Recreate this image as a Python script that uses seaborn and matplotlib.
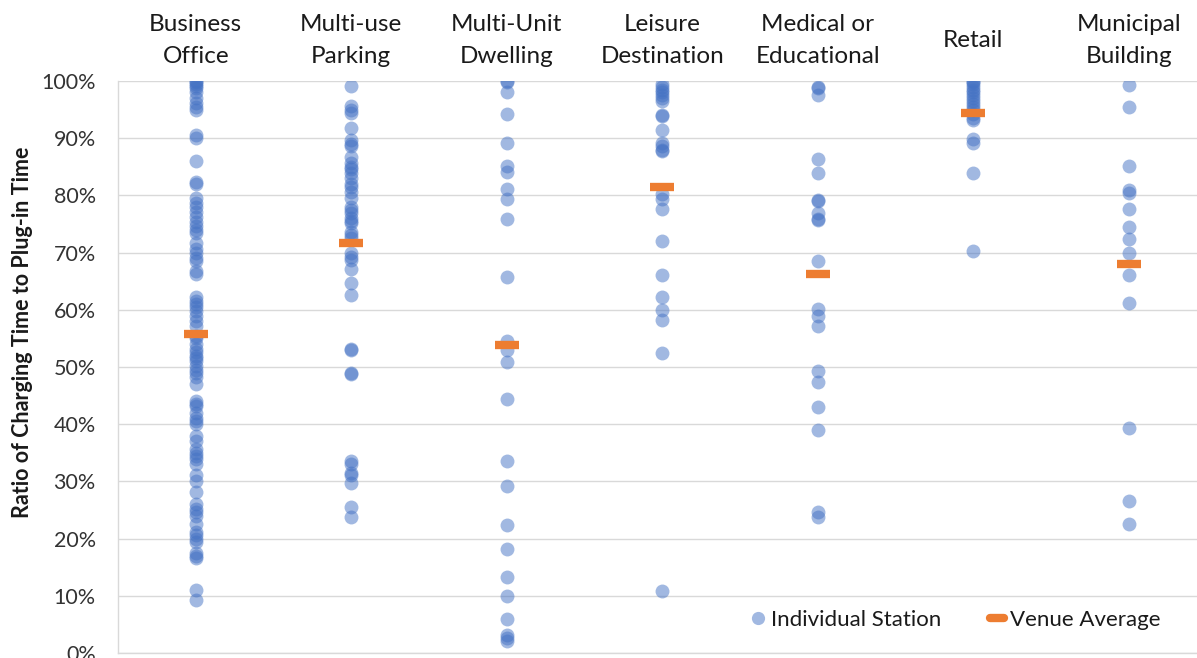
import matplotlib
matplotlib.use("Agg")
import matplotlib.pyplot as plt
from matplotlib.lines import Line2D
from matplotlib.markers import MarkerStyle
from matplotlib.ticker import PercentFormatter
import pandas as pd
import seaborn as sns

# venue categories (two-line labels as in the reference)
venues = ["Business\nOffice", "Multi-use\nParking", "Multi-Unit\nDwelling",
          "Leisure\nDestination", "Medical or\nEducational", "Retail",
          "Municipal\nBuilding"]

# ratio of charging time to plug-in time, per station (%)
business_office = [100, 99.8, 99.5, 99.2, 98.8, 98, 97, 96.2, 95.5, 95, 90.6, 90, 86,
                   82.3, 82, 79.6, 78.6, 78, 77.1, 76.2, 75.4, 74.6, 74, 73.4, 71.6,
                   70.6, 70, 69, 68.6, 66.8, 66.2, 62.3, 61.6, 61, 60.5, 59.8, 58.9,
                   58, 57.2, 55.5, 55, 54, 53.1, 52.6, 52, 51.5, 51, 50.2, 49.5, 49,
                   48.2, 47, 44.1, 43.6, 43.1, 42, 41, 40.5, 40, 38, 37, 35.6, 35,
                   34.5, 34, 33, 31.2, 30, 28.2, 26, 25.2, 24.6, 24, 22.6, 21.2, 20.6,
                   20, 19.4, 17.4, 17, 16.6, 11, 9.3]
multi_use_parking = [99.2, 95.6, 95, 94.4, 91.7, 89.7, 89, 88.6, 86.7, 85.6, 85, 84.6,
                     84, 83, 82, 81.5, 80.6, 79.5, 78, 77.5, 77, 76, 75.6, 75.1, 73.6,
                     73, 72.5, 70, 69.2, 68.7, 67.1, 64.7, 62.6, 53.1, 52.9, 48.9, 48.7,
                     33.6, 33.1, 31.5, 31.2, 29.8, 25.5, 23.8]
multi_unit_dwelling = [100, 99.8, 98.1, 94.2, 89.2, 85.2, 84.1, 81.1, 79.3, 75.9, 65.7,
                       54.6, 53, 50.8, 44.4, 33.6, 29.2, 22.3, 18.1, 13.3, 10, 6, 3.2,
                       2.6, 2.1]
leisure_destination = [99.5, 99, 98.5, 98, 97.6, 97.1, 96.5, 94.1, 93.8, 91.5, 89.2,
                       88.6, 88, 87.7, 80.2, 79.3, 77.6, 72.1, 66, 62.3, 60, 58.3, 52.4,
                       10.9]
medical_educational = [99, 98.8, 97.6, 86.3, 84, 79.2, 79, 76.9, 75.9, 75.7, 68.6, 60.2,
                       59, 57.2, 49.3, 47.4, 43, 39, 24.7, 23.7]
retail = [100, 99.8, 99.5, 99, 98.5, 98, 97.5, 97, 96.5, 96, 95.5, 95, 94.2, 93.6, 93.2,
          89.9, 89.2, 83.9, 70.2]
municipal_building = [99.3, 95.5, 85.2, 80.9, 80.5, 77.6, 74.4, 72.3, 70, 66.1, 61.2,
                      39.3, 26.5, 22.6]

venue_average = [55.7, 71.7, 53.9, 81.5, 66.2, 94.4, 68.0]

stations = [business_office, multi_use_parking, multi_unit_dwelling,
            leisure_destination, medical_educational, retail, municipal_building]

df = pd.DataFrame({
    "venue": [v for v, vals in zip(venues, stations) for _ in vals],
    "ratio": [x / 100 for vals in stations for x in vals],
})
avg_df = pd.DataFrame({"venue": venues, "ratio": [a / 100 for a in venue_average]})

blue = "#4472C4"
orange = "#ED7D31"

sns.set_style("white")
plt.rcParams["font.family"] = ["Lato", "DejaVu Sans"]

fig = plt.figure(figsize=(11.97, 6.58), dpi=100)
ax = fig.add_axes([118 / 1197, 5 / 658, 7 * 155.5 / 1197, 572 / 658])

# individual stations, one column per venue
sns.stripplot(data=df, x="venue", y="ratio", order=venues, jitter=False,
              color=blue, alpha=0.5, size=10, linewidth=0, ax=ax, zorder=3)
# venue averages as rounded orange dashes
dash = MarkerStyle("_", capstyle="round")
sns.scatterplot(data=avg_df, x="venue", y="ratio", marker=dash, s=280,
                linewidth=6, color=orange, edgecolor=orange, ax=ax, zorder=4,
                legend=False)

ax.set_xlim(-0.5, 6.5)
ax.set_ylim(0, 1)
ax.set_yticks([i / 10 for i in range(11)])
ax.yaxis.set_major_formatter(PercentFormatter(1.0, decimals=0))
ax.grid(axis="y", color="#D9D9D9", linewidth=1)
ax.set_axisbelow(True)

ax.xaxis.tick_top()
ax.set_xlabel("")
ax.tick_params(axis="x", length=0, pad=29, labelsize=17.5, labelcolor="#1a1a1a")
for lab in ax.get_xticklabels():
    lab.set_verticalalignment("center")
    lab.set_linespacing(1.65)
ax.tick_params(axis="y", length=0, pad=16, labelsize=15.5, labelcolor="#333333")

ax.set_ylabel("Ratio of Charging Time to Plug-in Time", fontsize=15.5,
              fontweight="bold", color="#1a1a1a")
ax.yaxis.set_label_coords(-0.078, 0.561)

for side in ["top", "right"]:
    ax.spines[side].set_visible(False)
for side in ["left", "bottom"]:
    ax.spines[side].set_color("#D9D9D9")
    ax.spines[side].set_linewidth(1)

handles = [
    Line2D([], [], linestyle="none", marker="o", markersize=9.5, color=blue, alpha=0.5,
           markeredgewidth=0),
    Line2D([], [], color=orange, linewidth=6, solid_capstyle="round"),
]
fig.legend(handles, ["Individual Station", "Venue Average"], loc="center",
           bbox_to_anchor=(956 / 1197, 38 / 658), ncol=2, frameon=False,
           fontsize=16, handlelength=0.6, handletextpad=0.3, columnspacing=2.2,
           labelcolor="#1a1a1a")

fig.savefig("out.png", dpi=100)
